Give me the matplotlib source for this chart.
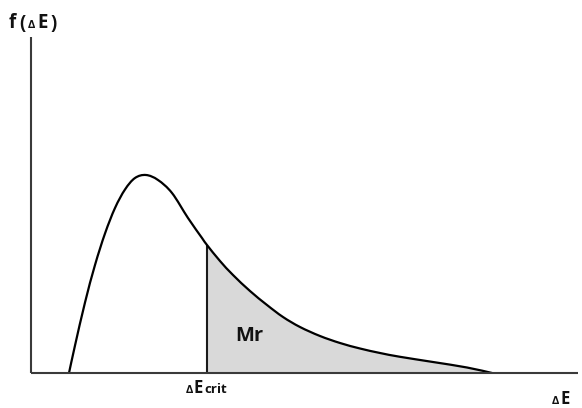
import numpy as np
import matplotlib
matplotlib.use("Agg")
import matplotlib.pyplot as plt
from matplotlib.path import Path
from matplotlib.patches import PathPatch

# Energy-distribution curve f(dE), sampled points (arbitrary units)
energy = [3.8, 4.4, 5.4, 6.4, 7.4, 8.4, 9.4, 10.4, 11.5, 12.7, 14.1, 15.7,
          17.1, 17.6, 18.9, 20.2, 21.9, 23.6, 25.2, 26.9, 28.9, 30.9, 32.9,
          34.9, 36.9, 40.2, 43.6, 46.1]
density = [0.0, 2.75, 7.05, 10.8, 13.95, 16.5, 18.35, 19.5, 19.8, 19.3, 18.0,
           15.5, 13.5, 12.8, 11.2, 9.8, 8.2, 6.8, 5.6, 4.6, 3.7, 3.0, 2.45,
           2.0, 1.62, 1.1, 0.55, 0.0]
e_crit = 17.6
x_max = 54.7
y_max = 33.6

FONT = "Open Sans"
GRAY_FILL = "#d9d9d9"
AXIS_COLOR = "#3a3a3a"
TEXT_COLOR = "#111111"


def smooth_path(xs, ys, start=0, stop=None):
    """Catmull-Rom spline through the points, as a cubic Bezier path."""
    pts = np.column_stack([xs, ys]).astype(float)
    n = len(pts)
    stop = n - 1 if stop is None else stop
    verts = [pts[start]]
    codes = [Path.MOVETO]
    for i in range(start, stop):
        p0 = pts[max(i - 1, 0)]
        p1 = pts[i]
        p2 = pts[i + 1]
        p3 = pts[min(i + 2, n - 1)]
        c1 = p1 + (p2 - p0) / 6.0
        c2 = p2 - (p3 - p1) / 6.0
        verts += [c1, c2, p2]
        codes += [Path.CURVE4] * 3
    return verts, codes


fig = plt.figure(figsize=(5.82, 4.08), dpi=100)
W, H = 582, 408
ax = fig.add_axes([31 / W, (H - 373) / H, (578 - 31) / W, (373 - 37) / H])
ax.set_xlim(0, x_max)
ax.set_ylim(0, y_max)
ax.axis("off")

# shaded tail beyond the critical energy
i_crit = energy.index(e_crit)
verts, codes = smooth_path(energy, density, start=i_crit)
verts = [(e_crit, 0.0)] + [tuple(v) for v in verts] + [(e_crit, 0.0)]
codes = [Path.MOVETO] + [Path.LINETO] + codes[1:] + [Path.LINETO]
ax.add_patch(PathPatch(Path(verts, codes), facecolor=GRAY_FILL,
                       edgecolor="none", zorder=1))

# the distribution curve
verts, codes = smooth_path(energy, density)
ax.add_patch(PathPatch(Path(verts, codes), facecolor="none",
                       edgecolor="black", lw=1.6, zorder=3,
                       capstyle="round", joinstyle="round"))

# critical-energy line
ax.plot([e_crit, e_crit], [0, density[i_crit]], color="#1a1a1a", lw=1.5,
        zorder=2, solid_capstyle="butt")

# axes
ax.plot([0, 0], [0, y_max], color=AXIS_COLOR, lw=1.5, zorder=4,
        solid_capstyle="butt", clip_on=False)
ax.plot([0, x_max], [0, 0], color=AXIS_COLOR, lw=1.5, zorder=4,
        solid_capstyle="butt", clip_on=False)

# area label
ax.text(21.8, 3.7, "Mr", fontfamily=FONT, fontweight="bold", fontsize=14.5,
        ha="center", va="center", color=TEXT_COLOR, zorder=5)


def px_text(x, y, s, size, **kw):
    fig.text(x / W, (H - y) / H, s, fontfamily=FONT, fontweight="bold",
             fontsize=size, color=TEXT_COLOR, va="baseline", **kw)


# f(ΔE) at the top of the vertical axis
px_text(9, 28.5, "f", 13.5)
px_text(19, 28.5, "(", 13.5)
px_text(28, 28.5, "Δ", 8)
px_text(37.5, 28.5, "E", 13.5)
px_text(50, 28.5, ")", 13.5)

# ΔEcrit under the critical line
px_text(185.5, 393, "Δ", 8)
px_text(193.5, 393, "E", 12)
px_text(204, 393, "crit", 9.5)

# ΔE at the end of the horizontal axis
px_text(551.5, 404, "Δ", 8)
px_text(560, 404, "E", 12)

fig.savefig("out.png", dpi=100, facecolor="white")
